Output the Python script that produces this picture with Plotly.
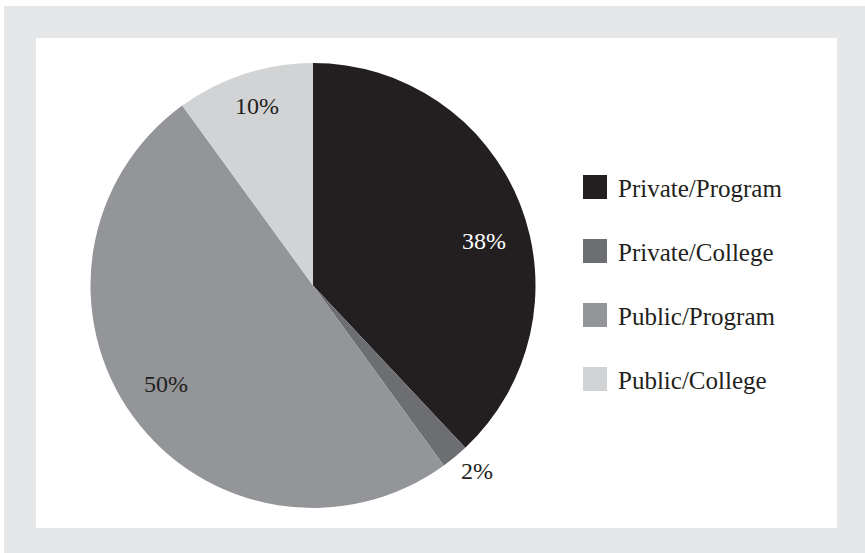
import plotly.graph_objects as go

categories = ["Private/Program", "Private/College", "Public/Program", "Public/College"]
values = [38, 2, 50, 10]
colors = ["#231f20", "#6d6e71", "#939598", "#d1d3d4"]
label_colors = ["#ffffff", "#231f20", "#231f20", "#231f20"]

W, H = 865, 553
FONT = "Liberation Serif"

# label centres (pixels) as placed in the original layout
label_pos = [(484, 241), (477, 471), (166, 384), (257, 106)]

total = sum(values)
label_text = [f"{round(v / total * 100)}%" for v in values]

fig = go.Figure()
fig.add_trace(go.Pie(
    labels=categories,
    values=values,
    sort=False,
    direction="clockwise",
    rotation=0,
    marker=dict(colors=colors, line=dict(width=0)),
    textinfo="none",
    domain=dict(x=[90 / W, 536 / W], y=[1 - 508 / H, 1 - 63 / H]),
    showlegend=False,
    hoverinfo="label+percent",
))

shapes = [
    dict(type="rect", xref="paper", yref="paper", x0=4 / W, x1=1, y0=0, y1=1 - 6 / H,
         fillcolor="#e6e7e8", line=dict(width=0), layer="below"),
    dict(type="rect", xref="paper", yref="paper", x0=36 / W, x1=837 / W, y0=1 - 528 / H, y1=1 - 38 / H,
         fillcolor="#ffffff", line=dict(width=0), layer="below"),
]
annotations = []
for txt, (px, py), col in zip(label_text, label_pos, label_colors):
    annotations.append(dict(xref="paper", yref="paper", x=px / W, y=1 - py / H,
                            text=txt, showarrow=False, xanchor="center", yanchor="middle",
                            font=dict(family=FONT, size=24, color=col)))

row_gap = 64
first_center = 187
for i, (cat, col) in enumerate(zip(categories, colors)):
    cy = first_center + i * row_gap
    shapes.append(dict(type="rect", xref="paper", yref="paper",
                       x0=583 / W, x1=607 / W, y0=1 - (cy + 12) / H, y1=1 - (cy - 12) / H,
                       fillcolor=col, line=dict(width=0)))
    annotations.append(dict(xref="paper", yref="paper", x=616 / W, y=1 - (cy + 1) / H,
                            text=cat, showarrow=False, xanchor="left", yanchor="middle",
                            font=dict(family=FONT, size=25, color="#231f20")))

fig.update_layout(
    width=W, height=H,
    margin=dict(l=0, r=0, t=0, b=0),
    paper_bgcolor="#ffffff",
    plot_bgcolor="#ffffff",
    shapes=shapes,
    annotations=annotations,
    font=dict(family=FONT, color="#231f20"),
)

fig.write_html("out.html", config={"displayModeBar": False},
               post_script="document.body.style.margin='0';document.body.style.overflow='hidden';")
